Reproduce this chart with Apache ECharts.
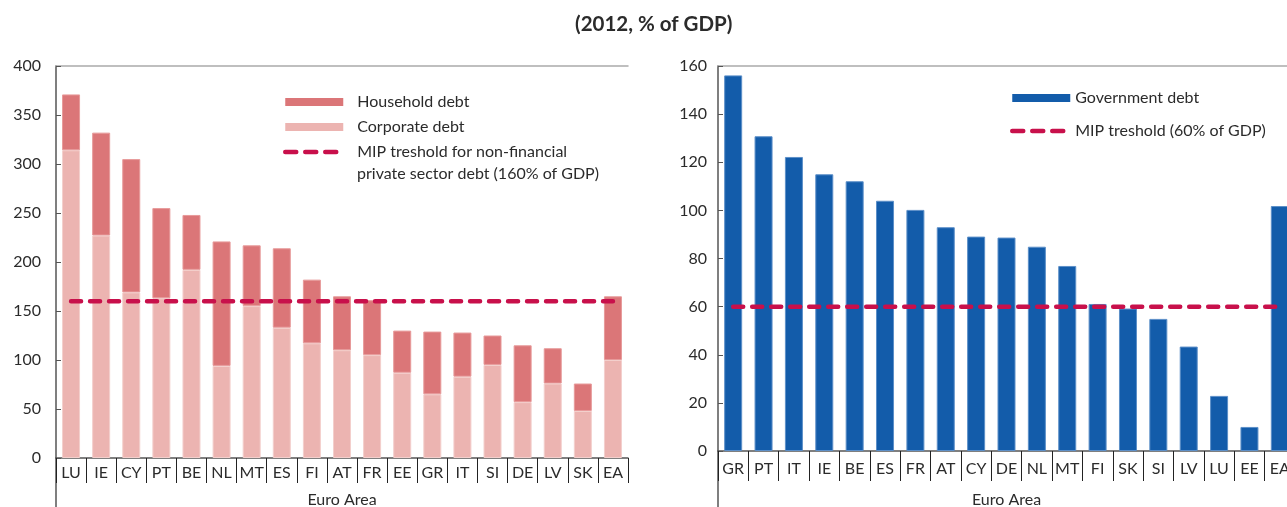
<!DOCTYPE html>
<html>
<head>
<meta charset="utf-8">
<script src="https://cdn.jsdelivr.net/npm/echarts@6/dist/echarts.min.js"></script>
<style>
html,body{margin:0;padding:0;background:#fff;}
#chart{width:1287px;height:507px;}
</style>
</head>
<body>
<div id="chart"></div>
<script>
// ---- Data ----
const titleText = '(2012, % of GDP)';
const groupLabel = 'Euro Area';

const leftCategories = ['LU','IE','CY','PT','BE','NL','MT','ES','FI','AT','FR','EE','GR','IT','SI','DE','LV','SK','EA'];
const corporateDebt = [314, 227, 169, 163, 192, 94, 155, 133, 117, 110, 105, 87, 65, 83, 95, 57, 76, 48, 100];
const householdDebt = [57, 105, 136, 92, 56, 127, 62, 81, 65, 55, 56, 43, 64, 45, 30, 58, 36, 28, 65];
const privateThreshold = [160,160,160,160,160,160,160,160,160,160,160,160,160,160,160,160,160,160,160];

const rightCategories = ['GR','PT','IT','IE','BE','ES','FR','AT','CY','DE','NL','MT','FI','SK','SI','LV','LU','EE','EA'];
const governmentDebt = [156.1, 130.8, 122.2, 115.0, 112.1, 104.0, 100.2, 93.0, 89.1, 88.7, 84.9, 76.9, 61.1, 59.2, 54.9, 43.4, 22.9, 10.0, 101.8];
const govThreshold = [60,60,60,60,60,60,60,60,60,60,60,60,60,60,60,60,60,60,60];

const leftLegendNames = ['Household debt', 'Corporate debt', 'MIP treshold for non-financial'];
const leftLegendLine2 = 'private sector debt (160% of GDP)';
const rightLegendNames = ['Government debt', 'MIP treshold (60% of GDP)'];

// ---- Style ----
const FONT = 'Lato';
const TXT = '#2b2b2b';
const AXIS = '#555555';
const HH = '#DB7678';
const CORP = '#ECB4B1';
const BLUE = '#135CAA';
const MIP = '#C8104B';

const chart = echarts.init(document.getElementById('chart'), null, {renderer:'canvas'});

function xCat(grid, data, margin, tickLen, nameGap) {
  return {
    type:'category', gridIndex:grid, data:data, position:'bottom',
    axisLine:{show:true, lineStyle:{color:AXIS, width:1.5}},
    axisTick:{show:true, length:tickLen, interval:0, lineStyle:{color:'#222', width:1}},
    axisLabel:{interval:0, margin:margin, color:TXT, fontFamily:FONT, fontSize:16},
    name:groupLabel, nameLocation:'middle', nameGap:nameGap,
    nameTextStyle:{color:TXT, fontFamily:FONT, fontSize:16}
  };
}
function xTop(grid, data) {
  return {
    type:'category', gridIndex:grid, data:data, position:'top',
    axisLine:{show:true, lineStyle:{color:'#aaaaaa', width:1.5}},
    axisTick:{show:false}, axisLabel:{show:false}
  };
}
function yVal(grid, max, interval, margin) {
  return {
    type:'value', gridIndex:grid, min:0, max:max, interval:interval,
    axisLine:{show:true, lineStyle:{color:AXIS, width:1.5}},
    axisTick:{show:true, inside:true, length:5, lineStyle:{color:AXIS}},
    splitLine:{show:false},
    axisLabel:{color:TXT, fontFamily:FONT, fontSize:16, margin:margin}
  };
}
function yExt(grid) {
  return {
    type:'value', gridIndex:grid, min:0, max:1,
    axisLine:{show:true, lineStyle:{color:AXIS, width:1.5}},
    axisTick:{show:false}, axisLabel:{show:false}, splitLine:{show:false}
  };
}
function xHidden(grid) {
  return {type:'category', gridIndex:grid, data:[''], show:false};
}

const legendText = {color:TXT, fontFamily:FONT, fontSize:16, lineHeight:22};
const hiddenSymbol = {color:'rgba(0,0,0,0)', borderColor:'rgba(0,0,0,0)', borderWidth:0, opacity:0};
const legendDash = {width:4.5, type:[11,9], cap:'round', color:MIP};
const noBorder = {borderWidth:0};

const option = {
  animation:false,
  backgroundColor:'#ffffff',
  title:[
    {text:titleText, left:575, top:11, padding:0,
     textStyle:{color:TXT, fontFamily:FONT, fontSize:20.5, fontWeight:'bold', lineHeight:26}},
    {text:leftLegendLine2, left:357, top:163, padding:0,
     textStyle:{color:TXT, fontFamily:FONT, fontSize:16, fontWeight:'normal', lineHeight:22}}
  ],
  grid:[
    {left:56, top:66, width:572, height:392, outerBoundsMode:'none', containLabel:false},
    {left:718, top:66, width:577, height:385, outerBoundsMode:'none', containLabel:false},
    {left:56, top:458, width:572, height:60, outerBoundsMode:'none', containLabel:false},
    {left:718, top:451, width:577, height:60, outerBoundsMode:'none', containLabel:false}
  ],
  legend:[
    {orient:'vertical', left:283, top:91, padding:0, itemGap:3, itemWidth:58, itemHeight:8,
     data:[
       {name:leftLegendNames[0], icon:'rect', itemStyle:noBorder},
       {name:leftLegendNames[1], icon:'rect', itemStyle:noBorder},
       {name:leftLegendNames[2], lineStyle:legendDash, itemStyle:hiddenSymbol}
     ],
     textStyle:Object.assign({padding:[0,0,0,9]}, legendText)},
    {orient:'vertical', left:1010, top:87, padding:0, itemGap:11, itemWidth:58, itemHeight:8,
     data:[
       {name:rightLegendNames[0], icon:'rect', itemStyle:noBorder},
       {name:rightLegendNames[1], lineStyle:legendDash, itemStyle:hiddenSymbol}
     ],
     textStyle:Object.assign({padding:[0,0,0,0]}, legendText)}
  ],
  xAxis:[
    xCat(0, leftCategories, 7, 25, 34),
    xTop(0, leftCategories),
    xCat(1, rightCategories, 10, 30, 41),
    xTop(1, rightCategories),
    xHidden(2),
    xHidden(3)
  ],
  yAxis:[
    yVal(0, 400, 50, 15),
    yVal(1, 160, 20, 11),
    yExt(2),
    yExt(3)
  ],
  series:[
    {name:leftLegendNames[1], type:'bar', stack:'priv', xAxisIndex:0, yAxisIndex:0,
     data:corporateDebt, barWidth:18,
     itemStyle:{color:CORP, borderColor:'#F3CFCC', borderWidth:1}},
    {name:leftLegendNames[0], type:'bar', stack:'priv', xAxisIndex:0, yAxisIndex:0,
     data:householdDebt, barWidth:18,
     itemStyle:{color:HH, borderColor:'#E79A9A', borderWidth:1}},
    {name:leftLegendNames[2], type:'line', xAxisIndex:0, yAxisIndex:0,
     data:privateThreshold, symbol:'none', z:5,
     lineStyle:{color:MIP, width:4.5, type:[10,9], cap:'round'}, itemStyle:{color:MIP}},
    {name:rightLegendNames[0], type:'bar', xAxisIndex:2, yAxisIndex:1,
     data:governmentDebt, barWidth:18,
     itemStyle:{color:BLUE, borderColor:'#5C8FC8', borderWidth:1}},
    {name:rightLegendNames[1], type:'line', xAxisIndex:2, yAxisIndex:1,
     data:govThreshold, symbol:'none', z:5,
     lineStyle:{color:MIP, width:4.5, type:[10,9], cap:'round'}, itemStyle:{color:MIP}}
  ]
};
chart.setOption(option);
</script>
</body>
</html>
